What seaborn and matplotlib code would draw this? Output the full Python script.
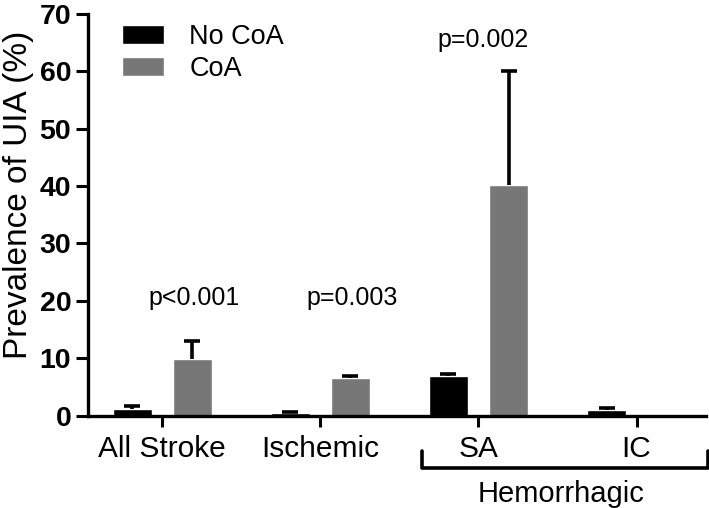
import matplotlib
matplotlib.use("Agg")
import matplotlib.pyplot as plt
import matplotlib.transforms as mtransforms
import numpy as np
import pandas as pd
import seaborn as sns

# values
categories = ["All Stroke", "Ischemic", "SA", "IC"]
groups = ["No CoA", "CoA"]
no_coa = [1.1, 0.5, 6.9, 0.9]
no_coa_err = [0.5, 0.15, 0.4, 0.4]
coa = [9.8, 6.5, 40.2, 0.0]
coa_err = [3.1, 0.4, 19.8, 0.0]
p_labels = ["p<0.001", "p=0.003", "p=0.002"]
p_x = [0.2, 1.2, 2.03]
p_y = [20.5, 20.5, 65.5]

df = pd.DataFrame({
    "category": categories * 2,
    "group": [groups[0]] * 4 + [groups[1]] * 4,
    "value": no_coa + coa,
})

sns.set_style("white")
plt.rcParams["font.family"] = ["Liberation Sans", "DejaVu Sans"]
plt.rcParams["text.color"] = "black"
plt.rcParams["axes.labelcolor"] = "black"
plt.rcParams["xtick.color"] = "black"
plt.rcParams["ytick.color"] = "black"

fig = plt.figure(figsize=(7.09, 5.08), dpi=100)
ax = fig.add_axes([0.124, 0.182, 0.872, 0.791])

sns.barplot(data=df, x="category", y="value", hue="group", order=categories,
            hue_order=groups, palette=["#000000", "#777777"], width=0.76,
            gap=0.35, errorbar=None, saturation=1, ax=ax)

# one-sided error bars on top of each bar
for container, errs in zip(ax.containers, [no_coa_err, coa_err]):
    for bar, e in zip(container, errs):
        if e <= 0:
            continue
        xc = bar.get_x() + bar.get_width() / 2
        _, caps, _ = ax.errorbar(xc, bar.get_height(), yerr=[[0], [e]],
                                 fmt="none", ecolor="black", elinewidth=2.6,
                                 capsize=6, capthick=2.6)
        caps[0].set_visible(False)

for lab, x, y in zip(p_labels, p_x, p_y):
    ax.text(x, y, lab, ha="center", va="center", fontsize=18)

ax.set_xlim(-0.47, 3.44)
ax.set_ylim(0, 70)
ax.set_yticks(np.arange(0, 71, 10))
ax.set_xlabel("")
ax.set_ylabel("Prevalence of UIA (%)", fontsize=24)
ax.yaxis.set_label_coords(-0.087, 0.55)
ax.tick_params(axis="x", labelsize=21.5, length=8, width=2.2, direction="out",
               bottom=True, pad=6)
ax.tick_params(axis="y", labelsize=20.5, length=9, width=2.2, direction="out",
               left=True, pad=3)
for t in ax.get_yticklabels():
    t.set_fontweight("bold")

for side in ["top", "right"]:
    ax.spines[side].set_visible(False)
for side in ["left", "bottom"]:
    ax.spines[side].set_linewidth(2.4)
    ax.spines[side].set_color("black")

# Hemorrhagic bracket under SA and IC
trans = mtransforms.blended_transform_factory(ax.transData, ax.transAxes)
ax.plot([1.64, 1.64, 3.45, 3.45], [-0.088, -0.131, -0.131, -0.088],
        color="black", lw=2.6, transform=trans, clip_on=False)
ax.text(2.52, -0.214, "Hemorrhagic", ha="center", va="baseline", fontsize=21,
        transform=trans)

ax.legend(loc="upper left", bbox_to_anchor=(0.015, 1.035), frameon=False,
          fontsize=19.5, handlelength=1.55, handleheight=0.65,
          handletextpad=0.95, labelspacing=0.22)

fig.savefig("out.png", dpi=100)
